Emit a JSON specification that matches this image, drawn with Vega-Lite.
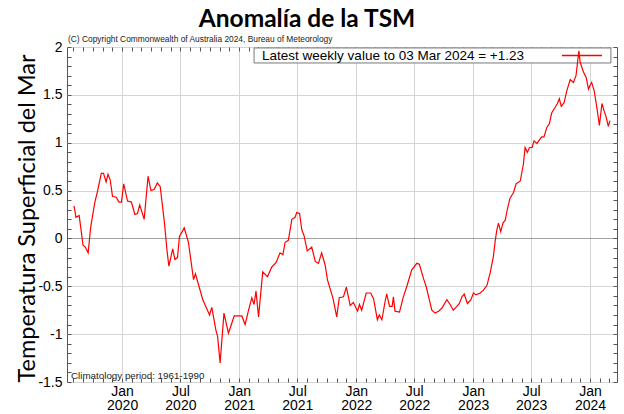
{
  "$schema": "https://vega.github.io/schema/vega-lite/v6.json",
  "autosize": {"type": "none"},
  "width": 550,
  "height": 335,
  "padding": {"left": 67, "top": 47, "right": 7, "bottom": 32},
  "background": "white",
  "title": {"text": "Anomalía de la TSM", "font": "Lato", "fontSize": 24.5, "fontWeight": "bold", "color": "black", "anchor": "middle", "dx": -35, "offset": 3},
  "config": {"view": {"stroke": "#555", "strokeWidth": 1}},
  "datasets": {
    "sst": [
      {"date": "2019-08-04", "anomaly": 0.34}, {"date": "2019-08-10", "anomaly": 0.22}, {"date": "2019-08-20", "anomaly": 0.24}, {"date": "2019-09-01", "anomaly": -0.07}, {"date": "2019-09-08", "anomaly": -0.09}, {"date": "2019-09-17", "anomaly": -0.15}, {"date": "2019-09-25", "anomaly": 0.12}, {"date": "2019-10-08", "anomaly": 0.38}, {"date": "2019-10-16", "anomaly": 0.49}, {"date": "2019-10-28", "anomaly": 0.68}, {"date": "2019-11-04", "anomaly": 0.68}, {"date": "2019-11-12", "anomaly": 0.59}, {"date": "2019-11-18", "anomaly": 0.67}, {"date": "2019-11-25", "anomaly": 0.61}, {"date": "2019-12-02", "anomaly": 0.44}, {"date": "2019-12-14", "anomaly": 0.43}, {"date": "2019-12-22", "anomaly": 0.38}, {"date": "2019-12-30", "anomaly": 0.38},
      {"date": "2020-01-06", "anomaly": 0.57}, {"date": "2020-01-18", "anomaly": 0.39}, {"date": "2020-01-30", "anomaly": 0.38}, {"date": "2020-02-10", "anomaly": 0.25}, {"date": "2020-02-18", "anomaly": 0.26}, {"date": "2020-02-25", "anomaly": 0.35}, {"date": "2020-03-10", "anomaly": 0.20}, {"date": "2020-03-22", "anomaly": 0.65}, {"date": "2020-03-31", "anomaly": 0.50}, {"date": "2020-04-10", "anomaly": 0.51}, {"date": "2020-04-20", "anomaly": 0.58}, {"date": "2020-04-29", "anomaly": 0.54}, {"date": "2020-05-12", "anomaly": 0.17}, {"date": "2020-05-20", "anomaly": -0.12}, {"date": "2020-05-26", "anomaly": -0.29}, {"date": "2020-06-07", "anomaly": -0.11}, {"date": "2020-06-14", "anomaly": -0.22}, {"date": "2020-06-22", "anomaly": -0.20}, {"date": "2020-06-28", "anomaly": 0.02}, {"date": "2020-07-13", "anomaly": 0.11}, {"date": "2020-07-26", "anomaly": -0.04}, {"date": "2020-08-11", "anomaly": -0.43}, {"date": "2020-08-17", "anomaly": -0.37}, {"date": "2020-09-09", "anomaly": -0.64}, {"date": "2020-09-30", "anomaly": -0.80}, {"date": "2020-10-07", "anomaly": -0.72}, {"date": "2020-10-20", "anomaly": -0.96}, {"date": "2020-10-25", "anomaly": -1.02}, {"date": "2020-11-02", "anomaly": -1.30}, {"date": "2020-11-14", "anomaly": -0.78}, {"date": "2020-11-28", "anomaly": -0.99}, {"date": "2020-12-16", "anomaly": -0.81}, {"date": "2020-12-26", "anomaly": -0.81},
      {"date": "2021-01-09", "anomaly": -0.81}, {"date": "2021-01-19", "anomaly": -0.90}, {"date": "2021-01-29", "anomaly": -0.76}, {"date": "2021-02-09", "anomaly": -0.62}, {"date": "2021-02-16", "anomaly": -0.69}, {"date": "2021-02-22", "anomaly": -0.55}, {"date": "2021-03-02", "anomaly": -0.82}, {"date": "2021-03-15", "anomaly": -0.35}, {"date": "2021-03-30", "anomaly": -0.40}, {"date": "2021-04-12", "anomaly": -0.30}, {"date": "2021-04-26", "anomaly": -0.25}, {"date": "2021-05-08", "anomaly": -0.15}, {"date": "2021-05-17", "anomaly": -0.17}, {"date": "2021-05-24", "anomaly": -0.04}, {"date": "2021-06-03", "anomaly": -0.02}, {"date": "2021-06-14", "anomaly": 0.20}, {"date": "2021-06-24", "anomaly": 0.22}, {"date": "2021-06-29", "anomaly": 0.27}, {"date": "2021-07-08", "anomaly": 0.26}, {"date": "2021-07-15", "anomaly": 0.09}, {"date": "2021-07-22", "anomaly": 0.03}, {"date": "2021-08-01", "anomaly": -0.13}, {"date": "2021-08-15", "anomaly": -0.09}, {"date": "2021-08-26", "anomaly": -0.24}, {"date": "2021-09-05", "anomaly": -0.26}, {"date": "2021-09-15", "anomaly": -0.15}, {"date": "2021-09-26", "anomaly": -0.28}, {"date": "2021-10-03", "anomaly": -0.43}, {"date": "2021-10-20", "anomaly": -0.62}, {"date": "2021-11-01", "anomaly": -0.82}, {"date": "2021-11-09", "anomaly": -0.62}, {"date": "2021-11-22", "anomaly": -0.61}, {"date": "2021-12-01", "anomaly": -0.51}, {"date": "2021-12-13", "anomaly": -0.70}, {"date": "2021-12-23", "anomaly": -0.67},
      {"date": "2022-01-05", "anomaly": -0.76}, {"date": "2022-01-11", "anomaly": -0.69}, {"date": "2022-01-18", "anomaly": -0.75}, {"date": "2022-02-01", "anomaly": -0.57}, {"date": "2022-02-15", "anomaly": -0.57}, {"date": "2022-02-24", "anomaly": -0.63}, {"date": "2022-03-08", "anomaly": -0.85}, {"date": "2022-03-14", "anomaly": -0.80}, {"date": "2022-03-22", "anomaly": -0.85}, {"date": "2022-04-01", "anomaly": -0.66}, {"date": "2022-04-06", "anomaly": -0.58}, {"date": "2022-04-15", "anomaly": -0.71}, {"date": "2022-04-23", "anomaly": -0.71}, {"date": "2022-04-27", "anomaly": -0.61}, {"date": "2022-05-02", "anomaly": -0.76}, {"date": "2022-05-16", "anomaly": -0.77}, {"date": "2022-05-28", "anomaly": -0.61}, {"date": "2022-06-08", "anomaly": -0.50}, {"date": "2022-06-23", "anomaly": -0.33}, {"date": "2022-07-09", "anomaly": -0.26}, {"date": "2022-07-17", "anomaly": -0.27}, {"date": "2022-07-30", "anomaly": -0.42}, {"date": "2022-08-07", "anomaly": -0.50}, {"date": "2022-08-17", "anomaly": -0.64}, {"date": "2022-08-25", "anomaly": -0.75}, {"date": "2022-09-04", "anomaly": -0.78}, {"date": "2022-09-15", "anomaly": -0.76}, {"date": "2022-09-25", "anomaly": -0.73}, {"date": "2022-10-11", "anomaly": -0.64}, {"date": "2022-10-21", "anomaly": -0.69}, {"date": "2022-10-31", "anomaly": -0.75}, {"date": "2022-11-11", "anomaly": -0.71}, {"date": "2022-11-19", "anomaly": -0.68}, {"date": "2022-11-27", "anomaly": -0.61}, {"date": "2022-12-04", "anomaly": -0.58}, {"date": "2022-12-14", "anomaly": -0.68}, {"date": "2022-12-25", "anomaly": -0.64},
      {"date": "2023-01-02", "anomaly": -0.57}, {"date": "2023-01-10", "anomaly": -0.59}, {"date": "2023-01-23", "anomaly": -0.57}, {"date": "2023-02-02", "anomaly": -0.54}, {"date": "2023-02-13", "anomaly": -0.49}, {"date": "2023-02-23", "anomaly": -0.36}, {"date": "2023-03-05", "anomaly": -0.19}, {"date": "2023-03-11", "anomaly": -0.02}, {"date": "2023-03-16", "anomaly": 0.09}, {"date": "2023-03-21", "anomaly": 0.16}, {"date": "2023-03-28", "anomaly": 0.07}, {"date": "2023-04-04", "anomaly": 0.16}, {"date": "2023-04-11", "anomaly": 0.19}, {"date": "2023-04-18", "anomaly": 0.31}, {"date": "2023-04-26", "anomaly": 0.42}, {"date": "2023-05-07", "anomaly": 0.48}, {"date": "2023-05-15", "anomaly": 0.57}, {"date": "2023-05-28", "anomaly": 0.60}, {"date": "2023-06-07", "anomaly": 0.78}, {"date": "2023-06-12", "anomaly": 0.95}, {"date": "2023-06-19", "anomaly": 0.90}, {"date": "2023-06-26", "anomaly": 0.95}, {"date": "2023-07-04", "anomaly": 0.95}, {"date": "2023-07-10", "anomaly": 1.02}, {"date": "2023-07-19", "anomaly": 0.99}, {"date": "2023-07-27", "anomaly": 1.03}, {"date": "2023-08-03", "anomaly": 1.06}, {"date": "2023-08-10", "anomaly": 1.06}, {"date": "2023-08-19", "anomaly": 1.16}, {"date": "2023-08-27", "anomaly": 1.20}, {"date": "2023-09-03", "anomaly": 1.31}, {"date": "2023-09-14", "anomaly": 1.37}, {"date": "2023-09-21", "anomaly": 1.41}, {"date": "2023-09-27", "anomaly": 1.46}, {"date": "2023-10-03", "anomaly": 1.38}, {"date": "2023-10-12", "anomaly": 1.42}, {"date": "2023-10-20", "anomaly": 1.54}, {"date": "2023-10-31", "anomaly": 1.66}, {"date": "2023-11-10", "anomaly": 1.63}, {"date": "2023-11-18", "anomaly": 1.70}, {"date": "2023-11-27", "anomaly": 1.96}, {"date": "2023-12-01", "anomaly": 1.84}, {"date": "2023-12-11", "anomaly": 1.74}, {"date": "2023-12-20", "anomaly": 1.68}, {"date": "2023-12-27", "anomaly": 1.56},
      {"date": "2024-01-01", "anomaly": 1.60}, {"date": "2024-01-06", "anomaly": 1.63}, {"date": "2024-01-14", "anomaly": 1.54}, {"date": "2024-01-22", "anomaly": 1.37}, {"date": "2024-01-30", "anomaly": 1.18}, {"date": "2024-02-07", "anomaly": 1.41}, {"date": "2024-02-14", "anomaly": 1.33}, {"date": "2024-02-20", "anomaly": 1.27}, {"date": "2024-02-27", "anomaly": 1.17}, {"date": "2024-03-03", "anomaly": 1.23}
    ],
    "copyright": [{"date": "2019-07-13", "value": 2, "text": "(C) Copyright Commonwealth of Australia 2024, Bureau of Meteorology"}],
    "climatology": [{"date": "2019-07-13", "value": -1.5, "text": "Climatology period: 1961-1990"}],
    "latest": [{"text": "Latest weekly value to 03 Mar 2024 = +1.23"}]
  },
  "layer": [
    {
      "data": {"values": [{}]},
      "mark": {"type": "rect", "fill": "white", "stroke": "#777", "strokeWidth": 1},
      "encoding": {
        "x": {"datum": {"year": 2021, "month": 2, "date": 16}, "type": "temporal", "axis": null},
        "x2": {"datum": {"year": 2024, "month": 3, "date": 6}},
        "y": {"datum": 1.99, "type": "quantitative", "axis": null},
        "y2": {"datum": 1.833}
      }
    },
    {
      "data": {"name": "sst"},
      "mark": {"type": "line", "strokeWidth": 1.2, "stroke": "#ff0000"},
      "encoding": {
        "x": {
          "field": "date", "type": "temporal",
          "scale": {"domain": [{"year": 2019, "month": 7, "date": 13}, {"year": 2024, "month": 3, "date": 25}]},
          "axis": {
            "orient": "bottom", "title": null, "domain": false,
            "tickCount": {"interval": "month", "step": 1},
            "labelExpr": "month(datum.value) % 6 == 0 ? [timeFormat(datum.value, '%b'), timeFormat(datum.value, '%Y')] : ''",
            "labelFont": "Liberation Sans", "labelFontSize": 14, "labelColor": "black", "labelLineHeight": 14.5,
            "labelPadding": 6, "labelOverlap": false, "labelFlush": false,
            "tickSize": -4, "tickColor": "#555",
            "grid": true, "gridColor": "#d5d5d5",
            "gridOpacity": {"condition": {"test": "month(datum.value) % 6 == 0", "value": 1}, "value": 0}
          }
        },
        "y": {
          "field": "anomaly", "type": "quantitative",
          "scale": {"domain": [-1.5, 2], "nice": false, "zero": false},
          "axis": {
            "orient": "left", "domain": false,
            "values": [-1.5, -1.4, -1.3, -1.2, -1.1, -1, -0.9, -0.8, -0.7, -0.6, -0.5, -0.4, -0.3, -0.2, -0.1, 0, 0.1, 0.2, 0.3, 0.4, 0.5, 0.6, 0.7, 0.8, 0.9, 1, 1.1, 1.2, 1.3, 1.4, 1.5, 1.6, 1.7, 1.8, 1.9, 2],
            "labelExpr": "abs(datum.value * 2 - round(datum.value * 2)) < 0.001 ? '' + datum.value : ''",
            "labelFont": "Liberation Sans", "labelFontSize": 14, "labelColor": "black",
            "labelPadding": 9, "labelOverlap": false, "labelFlush": false,
            "tickSize": -4, "tickColor": "#555",
            "grid": true,
            "gridColor": {"condition": {"test": "datum.value == 0", "value": "#444"}, "value": "#d5d5d5"},
            "gridDash": {"condition": {"test": "datum.value == 0", "value": [1, 1]}, "value": []},
            "gridOpacity": {"condition": {"test": "abs(datum.value * 2 - round(datum.value * 2)) < 0.001", "value": 1}, "value": 0},
            "title": "Temperatura Superficial del Mar",
            "titleFont": "Lato", "titleFontSize": 23.5, "titleFontWeight": "normal", "titleColor": "black",
            "titleAngle": -90, "titleAlign": "center", "titleBaseline": "alphabetic",
            "titleX": -33, "titleY": 171
          }
        }
      }
    },
    {
      "data": {"values": [{}]},
      "mark": {"type": "rule", "stroke": "#ff0000", "strokeWidth": 1.4},
      "encoding": {
        "x": {"datum": {"year": 2023, "month": 10, "date": 5}, "type": "temporal", "axis": null},
        "x2": {"datum": {"year": 2024, "month": 2, "date": 7}},
        "y": {"datum": 1.911, "type": "quantitative", "axis": null}
      }
    },
    {
      "data": {"name": "latest"},
      "mark": {"type": "text", "align": "left", "baseline": "middle", "font": "Liberation Sans", "fontSize": 13.5, "color": "black"},
      "encoding": {
        "x": {"datum": {"year": 2021, "month": 3, "date": 13}, "type": "temporal", "axis": null},
        "y": {"datum": 1.911, "type": "quantitative", "axis": null},
        "text": {"field": "text"}
      }
    },
    {
      "data": {"name": "copyright"},
      "mark": {"type": "text", "align": "left", "baseline": "bottom", "dx": 1, "dy": -3, "font": "Liberation Sans", "fontSize": 8.4, "color": "#222"},
      "encoding": {
        "x": {
          "field": "date", "type": "temporal",
          "axis": {"orient": "top", "title": null, "domain": false, "labels": false, "grid": false, "tickCount": {"interval": "month", "step": 1}, "tickSize": -4, "tickColor": "#555"}
        },
        "y": {
          "field": "value", "type": "quantitative",
          "axis": {"orient": "right", "title": null, "domain": false, "labels": false, "grid": false,
            "values": [-1.5, -1.4, -1.3, -1.2, -1.1, -1, -0.9, -0.8, -0.7, -0.6, -0.5, -0.4, -0.3, -0.2, -0.1, 0, 0.1, 0.2, 0.3, 0.4, 0.5, 0.6, 0.7, 0.8, 0.9, 1, 1.1, 1.2, 1.3, 1.4, 1.5, 1.6, 1.7, 1.8, 1.9, 2],
            "tickSize": -4, "tickColor": "#555"}
        },
        "text": {"field": "text"}
      }
    },
    {
      "data": {"name": "climatology"},
      "mark": {"type": "text", "align": "left", "baseline": "bottom", "dx": 4, "dy": -1, "font": "Liberation Sans", "fontSize": 9.8, "color": "#222"},
      "encoding": {
        "x": {"field": "date", "type": "temporal", "axis": null},
        "y": {"field": "value", "type": "quantitative", "axis": null},
        "text": {"field": "text"}
      }
    }
  ]
}
